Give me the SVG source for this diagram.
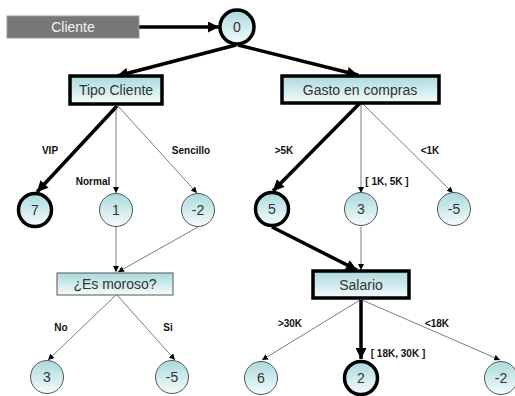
<svg xmlns="http://www.w3.org/2000/svg" width="515" height="396" viewBox="0 0 515 396">
<defs>
<linearGradient id="g" x1="0" y1="0" x2="0" y2="1">
<stop offset="0" stop-color="#a9d9dd"/>
<stop offset="1" stop-color="#f6fcfc"/>
</linearGradient>
<marker id="at" viewBox="0 0 10 10" refX="10" refY="5" markerWidth="6" markerHeight="6" markerUnits="userSpaceOnUse" orient="auto">
<path d="M0,0L10,5L0,10z" fill="#000"/>
</marker>
<marker id="ak" viewBox="0 0 10 10" refX="10" refY="5" markerWidth="12" markerHeight="11" markerUnits="userSpaceOnUse" orient="auto">
<path d="M0,0L10,5L0,10z" fill="#000"/>
</marker>
</defs>
<style>
.n{fill:url(#g);stroke:#555;stroke-width:1}
.k{fill:url(#g);stroke:#000;stroke-width:3.5}
.t{font-family:"Liberation Sans",Arial,sans-serif;font-size:14px;fill:#333;text-anchor:middle;dominant-baseline:central}
.l{font-family:"Liberation Sans",Arial,sans-serif;font-size:10px;font-weight:bold;fill:#111;text-anchor:middle}
.e{fill:none;stroke:#444;stroke-width:0.7;marker-end:url(#at)}
.h{fill:none;stroke:#000;stroke-width:3.5;marker-end:url(#ak)}
</style>
<g id="connectors">
<line class="h" x1="139" y1="27" x2="219" y2="27"/>
<line class="h" x1="236" y1="45" x2="117" y2="76"/>
<line class="h" x1="238" y1="45" x2="358" y2="75"/>
<line class="h" x1="117" y1="106" x2="37" y2="192"/>
<line class="e" x1="116" y1="106" x2="116" y2="193"/>
<line class="e" x1="118" y1="106" x2="197" y2="193"/>
<line class="h" x1="360" y1="103" x2="273" y2="191"/>
<line class="e" x1="361" y1="103" x2="361" y2="193"/>
<line class="e" x1="362" y1="103" x2="453" y2="193"/>
<line class="e" x1="116" y1="227" x2="116" y2="272"/>
<line class="e" x1="198" y1="227" x2="118" y2="272"/>
<line class="e" x1="361" y1="227" x2="361" y2="270"/>
<line class="h" x1="272" y1="227" x2="357" y2="270"/>
<line class="e" x1="116" y1="295" x2="48" y2="360"/>
<line class="e" x1="117" y1="295" x2="175" y2="360"/>
<line class="e" x1="360" y1="300" x2="262" y2="360"/>
<line class="h" x1="361" y1="300" x2="361" y2="359"/>
<line class="e" x1="362" y1="300" x2="500" y2="360"/>
</g>
<g id="labels">
<text class="l" x="50" y="154">VIP</text>
<text class="l" x="93" y="185">Normal</text>
<text class="l" x="191" y="154">Sencillo</text>
<text class="l" x="284" y="154">&gt;5K</text>
<text class="l" x="387" y="185">[ 1K, 5K ]</text>
<text class="l" x="430" y="154">&lt;1K</text>
<text class="l" x="61" y="331">No</text>
<text class="l" x="168" y="331">Si</text>
<text class="l" x="290" y="327">&gt;30K</text>
<text class="l" x="437" y="327">&lt;18K</text>
<text class="l" x="398" y="357">[ 18K, 30K ]</text>
</g>
<g id="cliente"><rect x="7" y="16" width="132" height="22" fill="#777" stroke="#999" stroke-width="1"/><text class="t" x="73" y="27" style="fill:#f2f2f2">Cliente</text></g>
<g id="n0"><circle class="k" cx="237" cy="27" r="17"/><text class="t" x="237" y="27">0</text></g>
<g id="tipo"><rect class="k" x="70" y="76" width="92" height="28"/><text class="t" x="116" y="90">Tipo Cliente</text></g>
<g id="gasto"><rect class="k" x="282" y="76" width="157" height="27"/><text class="t" x="360" y="89.5">Gasto en compras</text></g>
<g id="n7"><circle class="k" cx="35" cy="210" r="16.5"/><text class="t" x="35" y="210">7</text></g>
<g id="n1"><circle class="n" cx="116" cy="210" r="16.5"/><text class="t" x="116" y="210">1</text></g>
<g id="nm2a"><circle class="n" cx="198" cy="210" r="16.5"/><text class="t" x="198" y="210">-2</text></g>
<g id="n5"><circle class="k" cx="272" cy="209" r="16.5"/><text class="t" x="272" y="209">5</text></g>
<g id="n3a"><circle class="n" cx="361" cy="209" r="16.5"/><text class="t" x="361" y="209">3</text></g>
<g id="nm5a"><circle class="n" cx="454" cy="209" r="16.5"/><text class="t" x="454" y="209">-5</text></g>
<g id="moroso"><rect class="n" x="57" y="273" width="116" height="22"/><text class="t" x="115" y="284">¿Es moroso?</text></g>
<g id="salario"><rect class="k" x="313" y="271" width="96" height="27"/><text class="t" x="361" y="284.5">Salario</text></g>
<g id="n3b"><circle class="n" cx="47" cy="377" r="16.5"/><text class="t" x="47" y="377">3</text></g>
<g id="nm5b"><circle class="n" cx="172" cy="377" r="16.5"/><text class="t" x="172" y="377">-5</text></g>
<g id="n6"><circle class="n" cx="261" cy="378" r="16.5"/><text class="t" x="261" y="378">6</text></g>
<g id="n2"><circle class="k" cx="361" cy="378" r="16.5"/><text class="t" x="361" y="378">2</text></g>
<g id="nm2b"><circle class="n" cx="501" cy="378" r="16.5"/><text class="t" x="501" y="378">-2</text></g>
</svg>
